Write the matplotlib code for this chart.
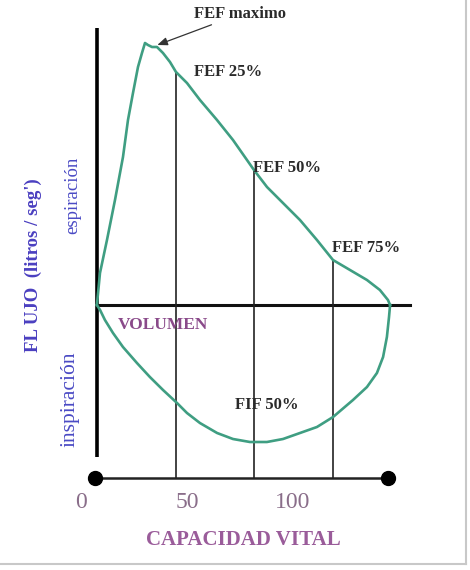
import matplotlib
matplotlib.use("Agg")
import matplotlib.pyplot as plt
from matplotlib.lines import Line2D

# ---- data (volume in % of vital capacity, flow in arbitrary units) ----
exp_volume = [7.5, 8.96, 12.26, 16.04, 19.81, 22.17, 24.53, 26.89, 28.77, 30.19, 31.6,
              33.49, 35.85, 38.68, 41.98, 44.81, 50.0, 56.13, 64.15, 71.7, 81.6, 87.74,
              95.28, 103.3, 111.3, 118.87, 126.9, 134.9, 141.0, 144.8, 145.8]
exp_flow = [0.0, 3.2, 6.5, 10.5, 14.8, 18.5, 21.2, 23.8, 25.2, 26.2, 26.0,
            25.8, 25.8, 25.2, 24.3, 23.3, 22.2, 20.5, 18.5, 16.5, 13.5, 11.8,
            10.2, 8.5, 6.5, 4.5, 3.5, 2.5, 1.5, 0.5, 0.0]

insp_volume = [145.8, 145.3, 144.3, 142.5, 139.6, 134.9, 128.3, 118.9, 111.3, 103.3,
               95.3, 87.7, 79.7, 71.7, 64.2, 56.1, 50.0, 45.3, 38.7, 32.5, 26.4,
               19.8, 15.1, 11.3, 9.0, 7.5]
insp_flow = [0.0, -1.2, -3.2, -5.2, -6.8, -8.2, -9.5, -11.2, -12.2, -12.8,
             -13.4, -13.7, -13.7, -13.4, -12.8, -11.8, -10.8, -9.8, -8.5, -7.2, -5.8,
             -4.2, -2.8, -1.5, -0.5, 0.0]

fef_volume = [44.81, 81.6, 118.87]
fef_flow = [23.3, 13.5, 4.5]
fef_labels = ["FEF 25%", "FEF 50%", "FEF 75%"]

peak_volume = 36.0
peak_flow = 26.0

tick_values = [0, 50, 100]
tick_labels = ["0", "50", "100"]

origin_volume = 7.5
end_volume = 144.8
start_dot = 6.6
zero_line_end = 155.2
axis_top = 27.7
axis_bottom = -15.2
base_flow = -17.3

# ---- figure ----
fig = plt.figure(figsize=(4.7, 5.7), dpi=100)
ax = fig.add_axes([0, 0, 1, 1])
ax.set_xlim(-38.2, 183.5)
ax.set_ylim(-26.5, 30.5)
ax.axis("off")

serif = ["Liberation Serif", "DejaVu Serif"]
curve_color = "#3f9e82"

# axes lines
ax.plot([origin_volume, origin_volume], [axis_bottom, axis_top], color="black", lw=2.6,
        solid_capstyle="butt")
ax.plot([origin_volume, zero_line_end], [0, 0], color="#111111", lw=2.2)
ax.plot([start_dot, end_volume], [base_flow, base_flow], color="#222222", lw=1.8)
ax.plot([start_dot, end_volume], [base_flow, base_flow], "o", color="black", ms=10)

# FEF verticals
for v, f in zip(fef_volume, fef_flow):
    ax.plot([v, v], [base_flow, f], color="#222222", lw=1.2)

# loop
ax.plot(exp_volume, exp_flow, color=curve_color, lw=1.9, solid_joinstyle="round")
ax.plot(insp_volume, insp_flow, color=curve_color, lw=1.9, solid_joinstyle="round")

# labels
txt = "#2a2a2a"
ax.annotate("FEF maximo", xy=(peak_volume, peak_flow), xytext=(53.5, 29.1),
            fontsize=12, family=serif, color=txt, fontweight="bold", va="center", ha="left",
            arrowprops=dict(arrowstyle="-|>,head_length=0.5,head_width=0.2", color="#333333",
                            lw=0.9, shrinkA=0, shrinkB=0))
label_pos = [(53.5, 23.3), (81.0, 13.7), (118.5, 5.7)]
for (lx, ly), lab in zip(label_pos, fef_labels):
    ax.text(lx, ly, lab, fontsize=12, family=serif, color=txt, fontweight="bold",
            va="center", ha="left")
ax.text(72.6, -10.0, "FIF 50%", fontsize=12, family=serif, color=txt, fontweight="bold",
        va="center", ha="left")
ax.text(17.5, -2.0, "VOLUMEN", fontsize=12.5, family=serif, color="#8a4a8a",
        fontweight="bold", va="center", ha="left")

for v, lab in zip(tick_values, tick_labels):
    ax.text(v, -19.8, lab, fontsize=17, family=serif, color="#8a6e8a", va="center",
            ha="center")
ax.text(76.4, -23.5, "CAPACIDAD VITAL", fontsize=15, family=serif, color="#9a5c9a",
        fontweight="bold", va="center", ha="center")

ax.text(-22.4, 4.0, "FL UJO  (litros / seg')", rotation=90, fontsize=13.5, family=serif,
        color="#4a3fc0", fontweight="bold", va="center", ha="center")
ax.text(-3.8, 11.0, "espiración", rotation=90, fontsize=13.5, family=serif,
        color="#4a4ac4", va="center", ha="center")
ax.text(-5.0, -9.4, "inspiración", rotation=90, fontsize=15.5, family=serif,
        color="#4a4ac4", va="center", ha="center")

# light frame at right/bottom
fig.add_artist(Line2D([466/470, 466/470], [6/570, 1], transform=fig.transFigure,
                      color="#c8c8c8", lw=1.5))
fig.add_artist(Line2D([0, 466/470], [6/570, 6/570], transform=fig.transFigure,
                      color="#c8c8c8", lw=1.5))

fig.savefig("out.png", dpi=100)
